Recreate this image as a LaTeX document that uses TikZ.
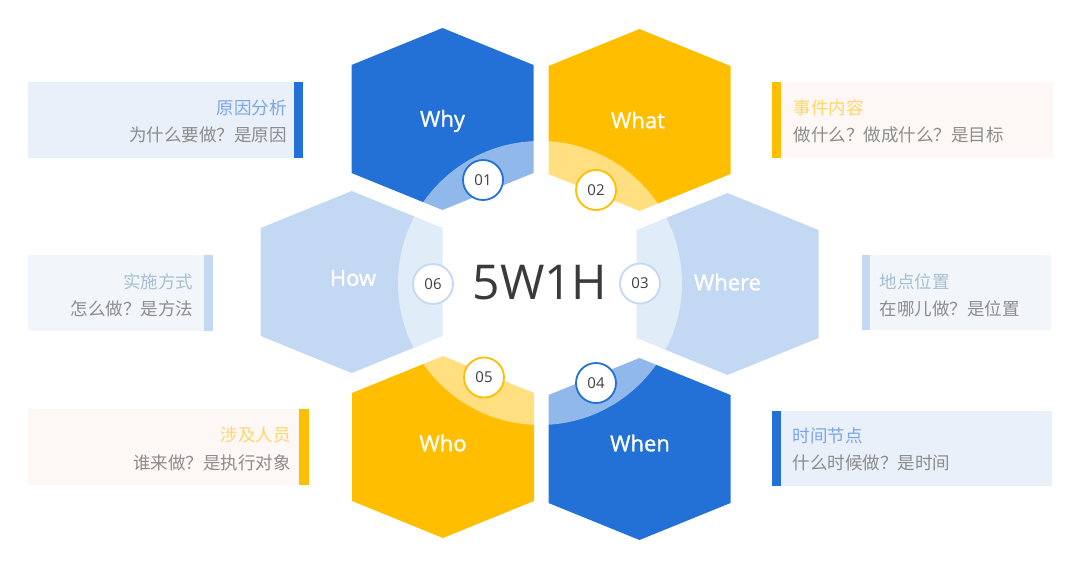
\documentclass[tikz,border=0pt]{standalone}
\usepackage{fontspec}
\setmainfont{Noto Sans CJK SC}
\newfontfamily\latinfont{Open Sans}
\newfontfamily\hexfont[FakeBold=1.2]{Open Sans}
\usetikzlibrary{positioning}
\definecolor{hexblue}{HTML}{2371D6}
\definecolor{hexyellow}{HTML}{FFBF00}
\definecolor{hexlight}{HTML}{C3D9F3}
\definecolor{ttlblue}{HTML}{7BA6E6}
\definecolor{ttlyellow}{HTML}{FDD568}
\definecolor{ttlgray}{HTML}{A6BFCF}
\definecolor{subgray}{HTML}{8C8C8C}
\definecolor{numgray}{HTML}{404040}
\definecolor{boxblue}{HTML}{E9F0FA}
\definecolor{boxyellow}{HTML}{FDF8F5}
\definecolor{boxlight}{HTML}{F2F6FB}

\begin{document}
\begin{tikzpicture}[x=1pt,y=-1pt,
  hexlabel/.style={text=white,font=\hexfont\fontsize{22}{26}\selectfont},
  numdot/.style={circle,draw=#1,line width=1.8pt,fill=white,minimum size=40pt,inner sep=0pt,text=numgray,font=\latinfont\fontsize{15}{18}\selectfont},
  boxtitle/.style={inner sep=0pt,text=#1,font=\fontsize{17.5}{20}\selectfont},
  boxsub/.style={inner sep=0pt,text=subgray,font=\fontsize{17.5}{20}\selectfont}
]
\useasboundingbox (0,0) rectangle (1080,568);
\foreach \cx/\cy/\col in {442.5/119/hexblue,639.5/120/hexyellow,727.5/284/hexlight,639.5/449/hexblue,443/447/hexyellow,351.7/282/hexlight}
  \fill[\col] (\cx,\cy) ++(0,-91) -- ++(91,37) -- ++(0,108) -- ++(-91,37) -- ++(-91,-37) -- ++(0,-108) -- cycle;
\fill[white,opacity=0.5] (540,283) circle[radius=142pt];
\node[font=\latinfont\fontsize{48}{56}\selectfont,text=numgray!90!black] (core) at (540,283) {5W1H};
\node[hexlabel] (why) at (442.5,121) {Why};
\node[hexlabel] (what) at (638,120) {What};
\node[hexlabel] (where) at (727.5,282) {Where};
\node[hexlabel] (when) at (640,443) {When};
\node[hexlabel] (who) at (443,443) {Who};
\node[hexlabel] (how) at (353,278) {How};
\node[numdot=hexblue] (n01) at (483,180) {01};
\node[numdot=hexyellow] (n02) at (596,190) {02};
\node[numdot=hexlight] (n03) at (640,283.5) {03};
\node[numdot=hexblue] (n04) at (596,383) {04};
\node[numdot=hexyellow] (n05) at (484,377.5) {05};
\node[numdot=hexlight] (n06) at (433,284) {06};
\fill[boxblue] (27.5,81.5) rectangle (293.5,157.5);
\fill[hexblue] (293.5,81.5) rectangle (302.5,157.5);
\node[boxtitle=ttlblue,anchor=east] (whyttl) at (287,108) {原因分析};
\node[boxsub,anchor=east] (whysub) at (287,135) {为什么要做？是原因};
\fill[boxlight] (27.5,255) rectangle (204,330.5);
\fill[hexlight] (204,255) rectangle (213.3,330.5);
\node[boxtitle=ttlgray,anchor=east] (howttl) at (193.5,282) {实施方式};
\node[boxsub,anchor=east] (howsub) at (193.5,309) {怎么做？是方法};
\fill[boxyellow] (27.5,409) rectangle (299.3,485);
\fill[hexyellow] (299.3,409) rectangle (308.7,485);
\node[boxtitle=ttlyellow,anchor=east] (whottl) at (290.7,435) {涉及人员};
\node[boxsub,anchor=east] (whosub) at (290.7,463) {谁来做？是执行对象};
\fill[hexyellow] (772.3,82) rectangle (781,157.5);
\fill[boxyellow] (781,82) rectangle (1052.7,157.5);
\node[boxtitle=ttlyellow,anchor=west] (whatttl) at (793.3,108) {事件内容};
\node[boxsub,anchor=west] (whatsub) at (793.3,135) {做什么？做成什么？是目标};
\fill[hexlight] (861.7,255) rectangle (870,330);
\fill[boxlight] (870,255) rectangle (1050.7,330);
\node[boxtitle=ttlgray,anchor=west] (wherettl) at (879.3,282) {地点位置};
\node[boxsub,anchor=west] (wheresub) at (879.3,308.5) {在哪儿做？是位置};
\fill[hexblue] (772.3,410.5) rectangle (781,485.5);
\fill[boxblue] (781,410.5) rectangle (1051.7,485.5);
\node[boxtitle=ttlblue,anchor=west] (whenttl) at (792.3,436) {时间节点};
\node[boxsub,anchor=west] (whensub) at (792.3,463.3) {什么时候做？是时间};
\end{tikzpicture}
\end{document}
